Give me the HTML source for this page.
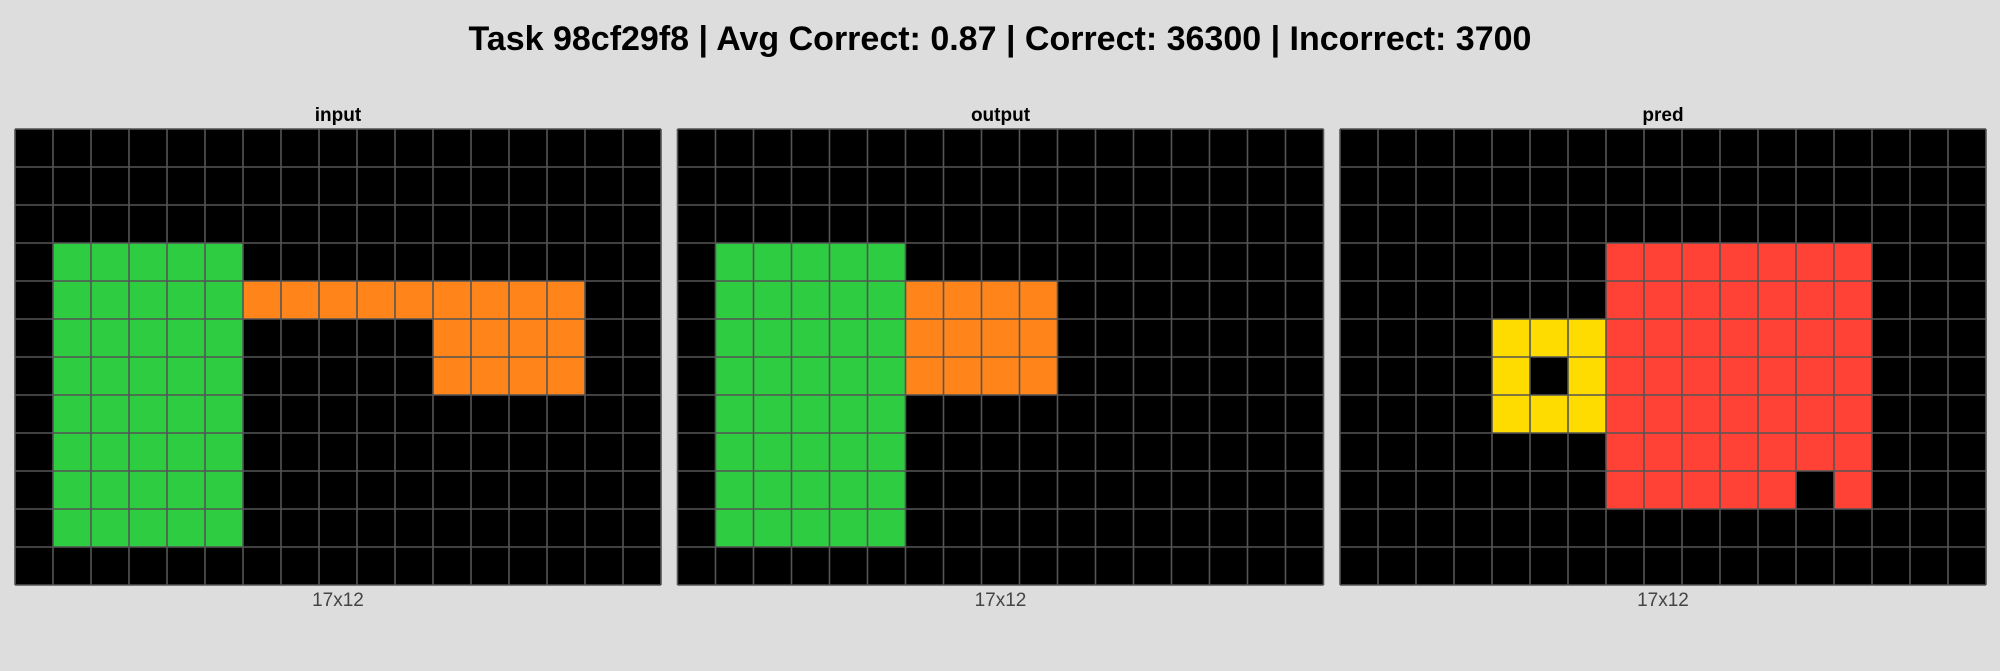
<!DOCTYPE html>
<html><head><meta charset="utf-8"><style>
body{margin:0;width:2000px;height:671px;background:#dddddd;font-family:"Liberation Sans",sans-serif;overflow:hidden;position:relative}
.t{position:absolute;left:0;width:2000px;top:20px;text-align:center;font-size:34px;font-weight:bold;color:#000}
svg{position:absolute;left:0;top:0}
</style></head><body>
<div class="t">Task 98cf29f8 | Avg Correct: 0.87 | Correct: 36300 | Incorrect: 3700</div>
<svg id="s" width="2000" height="671"></svg>
<script>
const panelTitles=["input","output","pred"];
const panelSizes=["17x12","17x12","17x12"];
const panelLefts=[15,677.5,1340];
const cols=17, rows=12;
const palette={0:"#000000",3:"#2ECC40",4:"#FFDC00",2:"#FF4136",7:"#FF851B"};
// rectangles: [value,row0,row1,col0,col1] inclusive
const inputRects=[[3,3,10,1,5],[7,4,4,6,14],[7,5,6,11,14]];
const outputRects=[[3,3,10,1,5],[7,4,6,6,9]];
const predRects=[[2,3,9,7,13],[0,9,9,12,12],[4,5,7,4,6],[0,6,6,5,5]];
const allRects=[inputRects,outputRects,predRects];
const NS="http://www.w3.org/2000/svg";
const svg=document.getElementById('s');
const cell=38, top0=129;
function mk(t,a){const e=document.createElementNS(NS,t);for(const k in a)e.setAttribute(k,a[k]);svg.appendChild(e);return e;}
panelTitles.forEach((title,p)=>{
  const L=panelLefts[p];
  const grid=[];for(let r=0;r<rows;r++){grid.push(new Array(cols).fill(0));}
  allRects[p].forEach(([v,r0,r1,c0,c1])=>{for(let r=r0;r<=r1;r++)for(let c=c0;c<=c1;c++)grid[r][c]=v;});
  const bg=mk('rect',{x:L,y:top0,width:cols*cell,height:rows*cell,fill:'#000'});
  
  
  for(let r=0;r<rows;r++)for(let c=0;c<cols;c++){
    if(grid[r][c]===0)continue;
    const e=mk('rect',{x:L+c*cell,y:top0+r*cell,width:cell,height:cell,fill:palette[grid[r][c]]});
    
    
  }
  for(let c=0;c<=cols;c++){mk('line',{x1:L+c*cell,x2:L+c*cell,y1:top0,y2:top0+rows*cell,stroke:'#555',"stroke-width":1.6});}
  for(let r=0;r<=rows;r++){mk('line',{x1:L,x2:L+cols*cell,y1:top0+r*cell,y2:top0+r*cell,stroke:'#555',"stroke-width":1.6});}
  const t=mk('text',{x:L+cols*cell/2,y:121,"text-anchor":"middle","font-size":19,"font-weight":"bold","font-family":"Liberation Sans, sans-serif",fill:'#000'});
  t.textContent=title;
  
  
  const s=mk('text',{x:L+cols*cell/2,y:606,"text-anchor":"middle","font-size":19,"font-family":"Liberation Sans, sans-serif",fill:'#444'});
  s.textContent=panelSizes[p];
  
  
});
</script>
</body></html>
